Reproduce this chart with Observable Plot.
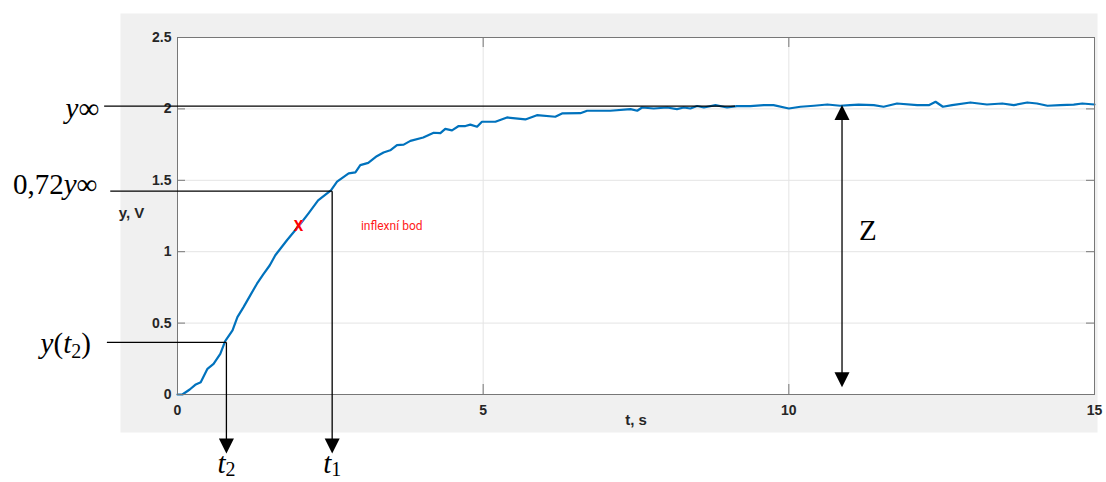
<!DOCTYPE html>
<html><head><meta charset="utf-8">
<script src="https://cdn.jsdelivr.net/npm/d3@7"></script>
<script src="https://cdn.jsdelivr.net/npm/@observablehq/plot@0.6"></script>
<style>body{margin:0;background:#fff} #chart svg{display:block}</style>
</head><body><div id="chart"></div>
<script>
// ---- data ----
const time = [0, 0.08, 0.2, 0.29, 0.38, 0.49, 0.59, 0.70, 0.78, 0.90, 0.98, 1.08, 1.19, 1.30, 1.40, 1.51, 1.60, 1.79, 1.98, 2.14, 2.30, 2.51, 2.61, 2.80, 2.91, 2.99, 3.12, 3.26, 3.37, 3.48, 3.59, 3.70, 3.81, 4.02, 4.19, 4.30, 4.38, 4.49, 4.60, 4.71, 4.79, 4.90, 4.98, 5.20, 5.39, 5.69, 5.88, 6.18, 6.29, 6.59, 6.70, 7.08, 7.41, 7.52, 7.60, 7.79, 8.01, 8.17, 8.28, 8.39, 8.50, 8.61, 8.80, 8.99, 9.15, 9.37, 9.59, 9.75, 10.0, 10.19, 10.41, 10.63, 10.84, 11.0, 11.14, 11.39, 11.55, 11.77, 12.10, 12.29, 12.40, 12.52, 12.67, 12.97, 13.24, 13.49, 13.68, 13.90, 14.06, 14.23, 14.44, 14.66, 14.80, 15.0];
const voltage = [0, 0, 0.035, 0.068, 0.086, 0.18, 0.215, 0.285, 0.374, 0.449, 0.542, 0.612, 0.694, 0.776, 0.84, 0.905, 0.975, 1.08, 1.178, 1.267, 1.36, 1.43, 1.49, 1.548, 1.555, 1.606, 1.622, 1.669, 1.695, 1.71, 1.746, 1.75, 1.776, 1.80, 1.833, 1.83, 1.86, 1.85, 1.88, 1.88, 1.89, 1.875, 1.91, 1.91, 1.94, 1.926, 1.956, 1.945, 1.968, 1.97, 1.987, 1.987, 1.998, 1.987, 2.01, 2.003, 2.01, 1.998, 2.01, 2.003, 2.02, 2.01, 2.026, 2.01, 2.02, 2.02, 2.026, 2.026, 2.003, 2.015, 2.022, 2.031, 2.022, 2.026, 2.03, 2.026, 2.015, 2.038, 2.026, 2.026, 2.05, 2.015, 2.026, 2.045, 2.031, 2.038, 2.026, 2.045, 2.038, 2.022, 2.026, 2.03, 2.038, 2.031];
const xTicks = [0, 5, 10, 15];
const yTicks = [0, 0.5, 1, 1.5, 2, 2.5];
const xGrid = [5, 10];
const yGrid = [0.5, 1, 1.5, 2];
const xLabel = "t, s";
const yLabel = "y, V";
// annotation values
const yInf = 2.02, y072 = 1.424;
const t1 = 2.53, t2 = 0.80, yT2 = 0.365;
const inflPoint = [{t: 1.98, y: 1.178}];
const inflLabel = [{t: 3.0, y: 1.18, text: "inflexní bod"}];
const leaderStart = [-1.20, -1.10, -1.155];
const yInfEnd = 9.12;
const arrowTipY = -0.414;
const zT = 10.87, zTop = 2.027, zBottom = 0.051;

// ---- layout ----
const W = 1106, H = 482, mL = 177, mR = 12, mT = 37, mB = 88;
const fw = W - mL - mR, fh = H - mT - mB;
const data = time.map((t, i) => ({t, y: voltage[i]}));
const links = [
  {x1: leaderStart[0], y1: yInf, x2: yInfEnd, y2: yInf},
  {x1: leaderStart[1], y1: y072, x2: t1, y2: y072},
  {x1: t1, y1: y072, x2: t1, y2: arrowTipY + 0.03},
  {x1: leaderStart[2], y1: yT2, x2: t2, y2: yT2},
  {x1: t2, y1: yT2, x2: t2, y2: arrowTipY + 0.03},
  {x1: zT, y1: zTop - 0.03, x2: zT, y2: zBottom + 0.03}
];
const downTips = [{x: t1, y: arrowTipY}, {x: t2, y: arrowTipY}, {x: zT, y: zBottom}];
const upTips = [{x: zT, y: zTop}];
const downTri = {draw(c) { c.moveTo(0, 0); c.lineTo(-7.5, -15); c.lineTo(7.5, -15); c.closePath(); }};
const upTri = {draw(c) { c.moveTo(0, 0); c.lineTo(-7.5, 15); c.lineTo(7.5, 15); c.closePath(); }};

const labels = [
  {key: "y∞", x: leaderStart[0], y: yInf, dx: -5, dy: 3, anchor: "end"},
  {key: "0,72y∞", x: leaderStart[1], y: y072, dx: -13, dy: -6, anchor: "end"},
  {key: "y(t2)", x: leaderStart[2], y: yT2, dx: -16, dy: 1, anchor: "end"},
  {key: "t2", x: t2, y: arrowTipY, dx: 0, dy: 10, anchor: "middle"},
  {key: "t1", x: t1, y: arrowTipY, dx: 0, dy: 10, anchor: "middle"},
  {key: "Z", x: zT, y: (zTop + zBottom) / 2, dx: 17, dy: -15, anchor: "start"}
];
const rich = {
  "y∞": '<tspan font-style="italic">y</tspan>∞',
  "0,72y∞": '0,72<tspan font-style="italic">y</tspan>∞',
  "y(t2)": '<tspan font-style="italic">y</tspan>(<tspan font-style="italic">t</tspan><tspan font-size="20" dy="5">2</tspan><tspan dy="-5">)</tspan>',
  "t2": '<tspan font-style="italic">t</tspan><tspan font-size="20" dy="3">2</tspan>',
  "t1": '<tspan font-style="italic">t</tspan><tspan font-size="20" dy="3">1</tspan>'
};
const serif = "'Liberation Serif', 'Times New Roman', serif";
const sans = "'Liberation Sans', Arial, sans-serif";
const frameColor = "#777";
const tickText = {fontSize: 14, fontWeight: "bold", fontFamily: sans, fill: "#262626"};
const labelText = {fontSize: 15, fontWeight: "bold", fontFamily: sans, fill: "#262626"};

const chart = Plot.plot({
  width: W, height: H,
  marginLeft: mL, marginRight: mR, marginTop: mT, marginBottom: mB,
  x: {domain: [0, 15]},
  y: {domain: [0, 2.5]},
  style: {fontFamily: sans, fontSize: "14px", color: "#262626", background: "white", overflow: "visible"},
  marks: [
    Plot.frame({fill: "#f0f0f0", insetLeft: -57, insetTop: -24, insetRight: -3, insetBottom: -38}),
    Plot.frame({fill: "white"}),
    Plot.ruleY(yGrid, {stroke: "#e4e4e4", strokeWidth: 1}),
    Plot.ruleX(xGrid, {stroke: "#e4e4e4", strokeWidth: 1}),
    Plot.ruleX(xTicks, {stroke: frameColor, insetTop: fh - 10}),
    Plot.ruleX(xTicks, {stroke: frameColor, insetBottom: fh - 10}),
    Plot.ruleY(yTicks, {stroke: frameColor, insetRight: fw - 8}),
    Plot.ruleY(yTicks, {stroke: frameColor, insetLeft: fw - 8}),
    Plot.axisX(xTicks, {tickSize: 0, tickPadding: 11, label: null, tickFormat: d => String(d), ...tickText}),
    Plot.axisY(yTicks, {tickSize: 0, tickPadding: 6, label: null, tickFormat: d => String(d), ...tickText}),
    Plot.text([xLabel], {text: d => d, frameAnchor: "bottom", dy: 26, lineAnchor: "middle", ...labelText}),
    Plot.text([yLabel], {text: d => d, frameAnchor: "left", dx: -46, dy: -3, textAnchor: "middle", lineAnchor: "middle", ...labelText}),
    Plot.line(data, {x: "t", y: "y", stroke: "#0072BD", strokeWidth: 2.2}),
    Plot.frame({stroke: frameColor, strokeWidth: 1}),
    Plot.text(inflPoint, {x: "t", y: "y", text: () => "X", fill: "#ff0000", fontSize: 15, fontWeight: "bold", fontFamily: "Roboto, sans-serif"}),
    Plot.text(inflLabel, {x: "t", y: "y", text: "text", fill: "#ff1a1a", fontSize: 12, fontWeight: "normal", textAnchor: "start", fontFamily: "Roboto, sans-serif"}),
    Plot.link(links, {x1: "x1", y1: "y1", x2: "x2", y2: "y2", stroke: "#000", strokeWidth: 1.3}),
    Plot.dot(downTips, {x: "x", y: "y", symbol: downTri, r: 6, fill: "#000", stroke: "none"}),
    Plot.dot(upTips, {x: "x", y: "y", symbol: upTri, r: 6, fill: "#000", stroke: "none"}),
    ...labels.map(l => Plot.text([l], {x: "x", y: "y", text: "key", dx: l.dx, dy: l.dy, textAnchor: l.anchor, lineAnchor: "middle", fontFamily: serif, fontSize: 29, fontWeight: "normal", fill: "#000"}))
  ]
});
d3.select(chart).selectAll("text").each(function() {
  const k = this.textContent;
  if (rich[k]) this.innerHTML = rich[k];
});
document.getElementById("chart").appendChild(chart);
</script>
</body></html>
